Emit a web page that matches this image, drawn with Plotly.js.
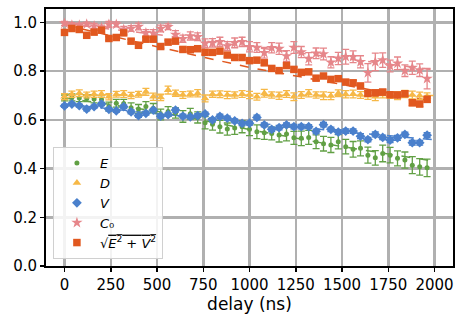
<!DOCTYPE html>
<html>
<head>
<meta charset="utf-8">
<script src="https://cdn.plot.ly/plotly-3.0.1.min.js"></script>
<style>
  html, body { margin: 0; padding: 0; background: #ffffff; }
  #chart { width: 470px; height: 322px; }
</style>
</head>
<body>
<div id="chart"></div>
<script>
// delay values (ns)
const delays = [
    0, 40, 80, 120, 160, 200, 240, 280, 320, 360,
    400, 440, 480, 520, 560, 600, 640, 680, 720, 760,
    800, 840, 880, 920, 960, 1000, 1040, 1080, 1120, 1160,
    1200, 1240, 1280, 1320, 1360, 1400, 1440, 1480, 1520, 1560,
    1600, 1640, 1680, 1720, 1760, 1800, 1840, 1880, 1920, 1960
];

const valE = [
    0.690, 0.692, 0.690, 0.688, 0.686, 0.684, 0.655, 0.668, 0.667, 0.650,
    0.645, 0.655, 0.648, 0.622, 0.634, 0.628, 0.614, 0.625, 0.610, 0.588,
    0.582, 0.572, 0.562, 0.567, 0.572, 0.561, 0.551, 0.547, 0.544, 0.538,
    0.542, 0.526, 0.524, 0.528, 0.510, 0.502, 0.497, 0.510, 0.490, 0.479,
    0.483, 0.455, 0.444, 0.462, 0.455, 0.442, 0.435, 0.414, 0.407, 0.403
];
const errE = [
    0.012, 0.014, 0.015, 0.013, 0.016, 0.015, 0.018, 0.016, 0.017, 0.020,
    0.018, 0.020, 0.019, 0.022, 0.020, 0.021, 0.024, 0.022, 0.023, 0.025,
    0.024, 0.026, 0.025, 0.027, 0.025, 0.026, 0.028, 0.027, 0.026, 0.029,
    0.028, 0.027, 0.030, 0.029, 0.028, 0.030, 0.031, 0.029, 0.030, 0.032,
    0.031, 0.033, 0.030, 0.034, 0.032, 0.031, 0.033, 0.035, 0.034, 0.036
];

const valD = [
    0.695, 0.705, 0.709, 0.702, 0.705, 0.706, 0.695, 0.705, 0.706, 0.700,
    0.705, 0.715, 0.695, 0.692, 0.722, 0.709, 0.702, 0.706, 0.709, 0.688,
    0.705, 0.705, 0.702, 0.702, 0.706, 0.702, 0.695, 0.709, 0.702, 0.699,
    0.706, 0.695, 0.702, 0.709, 0.702, 0.699, 0.698, 0.709, 0.705, 0.706,
    0.702, 0.699, 0.695, 0.705, 0.702, 0.699, 0.706, 0.702, 0.699, 0.695
];
const errD = [
    0.012, 0.013, 0.014, 0.012, 0.013, 0.014, 0.013, 0.012, 0.014, 0.013,
    0.012, 0.014, 0.015, 0.013, 0.016, 0.013, 0.014, 0.012, 0.015, 0.014,
    0.013, 0.014, 0.015, 0.013, 0.014, 0.015, 0.014, 0.016, 0.013, 0.015,
    0.014, 0.016, 0.014, 0.015, 0.013, 0.016, 0.015, 0.014, 0.015, 0.016,
    0.014, 0.015, 0.016, 0.015, 0.014, 0.016, 0.015, 0.016, 0.015, 0.016
];

const valV = [
    0.657, 0.665, 0.658, 0.644, 0.654, 0.665, 0.643, 0.637, 0.654, 0.633,
    0.617, 0.627, 0.640, 0.615, 0.621, 0.640, 0.615, 0.612, 0.617, 0.624,
    0.600, 0.614, 0.607, 0.596, 0.585, 0.586, 0.610, 0.579, 0.561, 0.568,
    0.579, 0.572, 0.572, 0.572, 0.553, 0.580, 0.561, 0.550, 0.554, 0.554,
    0.533, 0.519, 0.540, 0.528, 0.517, 0.526, 0.540, 0.506, 0.506, 0.537
];
const errV = [
    0.006, 0.007, 0.006, 0.007, 0.006, 0.007, 0.007, 0.006, 0.007, 0.008,
    0.007, 0.008, 0.007, 0.008, 0.007, 0.008, 0.008, 0.007, 0.008, 0.008,
    0.008, 0.009, 0.008, 0.008, 0.009, 0.008, 0.009, 0.008, 0.009, 0.009,
    0.008, 0.009, 0.009, 0.008, 0.009, 0.009, 0.009, 0.010, 0.009, 0.009,
    0.010, 0.009, 0.010, 0.009, 0.010, 0.010, 0.009, 0.010, 0.010, 0.010
];

const valC0 = [
    0.996, 0.989, 0.988, 0.993, 0.985, 0.979, 0.992, 0.992, 0.971, 0.975,
    0.983, 0.957, 0.955, 0.975, 0.982, 0.950, 0.933, 0.944, 0.941, 0.914,
    0.916, 0.920, 0.903, 0.916, 0.920, 0.900, 0.897, 0.875, 0.896, 0.892,
    0.862, 0.897, 0.878, 0.851, 0.873, 0.870, 0.836, 0.852, 0.859, 0.859,
    0.838, 0.793, 0.838, 0.845, 0.821, 0.832, 0.802, 0.814, 0.804, 0.769
];
const errC0 = [
    0.008, 0.010, 0.009, 0.008, 0.011, 0.010, 0.012, 0.010, 0.013, 0.012,
    0.014, 0.013, 0.015, 0.014, 0.012, 0.016, 0.015, 0.017, 0.016, 0.018,
    0.017, 0.019, 0.018, 0.020, 0.019, 0.021, 0.020, 0.022, 0.021, 0.023,
    0.022, 0.024, 0.023, 0.025, 0.022, 0.024, 0.023, 0.025, 0.030, 0.024,
    0.025, 0.038, 0.036, 0.030, 0.024, 0.026, 0.024, 0.027, 0.026, 0.042
];

const valS = [
    0.959, 0.975, 0.971, 0.947, 0.960, 0.968, 0.934, 0.938, 0.957, 0.923,
    0.906, 0.931, 0.931, 0.901, 0.919, 0.923, 0.889, 0.888, 0.892, 0.877,
    0.877, 0.882, 0.866, 0.856, 0.856, 0.843, 0.845, 0.834, 0.811, 0.802,
    0.823, 0.807, 0.795, 0.797, 0.771, 0.780, 0.766, 0.769, 0.755, 0.752,
    0.739, 0.709, 0.711, 0.714, 0.703, 0.702, 0.707, 0.670, 0.665, 0.684
];
const errS = [
    0.006, 0.007, 0.006, 0.007, 0.007, 0.006, 0.007, 0.007, 0.008, 0.007,
    0.008, 0.007, 0.008, 0.008, 0.007, 0.008, 0.009, 0.008, 0.008, 0.009,
    0.008, 0.009, 0.009, 0.009, 0.008, 0.009, 0.009, 0.010, 0.009, 0.009,
    0.010, 0.009, 0.010, 0.010, 0.009, 0.010, 0.010, 0.011, 0.010, 0.010,
    0.011, 0.010, 0.011, 0.011, 0.010, 0.011, 0.011, 0.012, 0.011, 0.012
];

// dashed fit curves
const fitX = [0, 500, 1000, 1500, 2000];
const fitE = [0.690, 0.635, 0.560, 0.490, 0.430];
const fitD = [0.703, 0.702, 0.701, 0.701, 0.700];
const fitV = [0.665, 0.625, 0.590, 0.552, 0.518];
const fitC0 = [0.995, 0.950, 0.900, 0.853, 0.805];
const fitS = [0.990, 0.900, 0.815, 0.745, 0.675];

const xTicks = [0, 250, 500, 750, 1000, 1250, 1500, 1750, 2000];
const yTicks = [0.0, 0.2, 0.4, 0.6, 0.8, 1.0];

const COLORS = {
    E: '#61a044',
    D: '#f6b847',
    V: '#4a80cc',
    C0: '#e6868a',
    S: '#e1581f'
};

const fitTrace = (y, color) => ({
    x: fitX, y: y, type: 'scatter', mode: 'lines', showlegend: false,
    hoverinfo: 'skip',
    line: { color: color, width: 1.5, dash: 'dash' }
});

const pointTrace = (name, y, err, color, symbol, size) => ({
    x: delays, y: y, name: name, type: 'scatter', mode: 'markers',
    marker: { color: color, symbol: symbol, size: size, line: { width: 0 } },
    error_y: { type: 'data', array: err, visible: true, color: color, thickness: 1.3, width: 3.5 }
});

const traces = [
    fitTrace(fitE, COLORS.E),
    fitTrace(fitD, COLORS.D),
    fitTrace(fitV, COLORS.V),
    fitTrace(fitC0, COLORS.C0),
    fitTrace(fitS, COLORS.S),
    pointTrace('<i>E</i>', valE, errE, COLORS.E, 'circle', 5),
    pointTrace('<i>D</i>', valD, errD, COLORS.D, 'triangle-up', 7.5),
    pointTrace('<i>V</i>', valV, errV, COLORS.V, 'diamond', 7.5),
    pointTrace('<i>C</i>₀', valC0, errC0, COLORS.C0, 'star', 8.5),
    pointTrace('√<span style="text-decoration:overline"><i>E</i><sup>2</sup> + <i>V</i><sup>2</sup></span>',
        valS, errS, COLORS.S, 'square', 7.5)
];

const axisCommon = {
    showline: true,
    linecolor: '#000000',
    linewidth: 2,
    mirror: true,
    showgrid: true,
    gridcolor: '#b0b0b0',
    gridwidth: 2.5,
    zeroline: false,
    ticks: 'outside',
    ticklen: 4,
    tickwidth: 1.5,
    tickcolor: '#000000',
    tickfont: { family: 'DejaVu Sans', size: 15, color: '#000000' }
};

const layout = {
    width: 470,
    height: 322,
    margin: { l: 46, r: 17, t: 9, b: 56 },
    paper_bgcolor: '#ffffff',
    plot_bgcolor: '#ffffff',
    font: { family: 'DejaVu Sans', color: '#000000' },
    xaxis: Object.assign({}, axisCommon, {
        range: [-100, 2100],
        tickmode: 'array',
        tickvals: xTicks,
        ticktext: xTicks.map(String),
        title: { text: 'delay (ns)', font: { family: 'DejaVu Sans', size: 17, color: '#000000' }, standoff: 2 }
    }),
    yaxis: Object.assign({}, axisCommon, {
        range: [0, 1.055],
        tickmode: 'array',
        tickvals: yTicks,
        ticktext: yTicks.map(v => v.toFixed(1))
    }),
    legend: {
        x: 0.017, y: 0.463, xanchor: 'left', yanchor: 'top',
        bgcolor: 'rgba(255,255,255,0.85)',
        bordercolor: '#d0d0d0',
        borderwidth: 1,
        font: { family: 'DejaVu Sans', size: 13, color: '#000000' },
        itemwidth: 36,
        tracegroupgap: 0
    },
    showlegend: true
};

Plotly.newPlot('chart', traces, layout, { displayModeBar: false, staticPlot: true });
</script>
</body>
</html>
